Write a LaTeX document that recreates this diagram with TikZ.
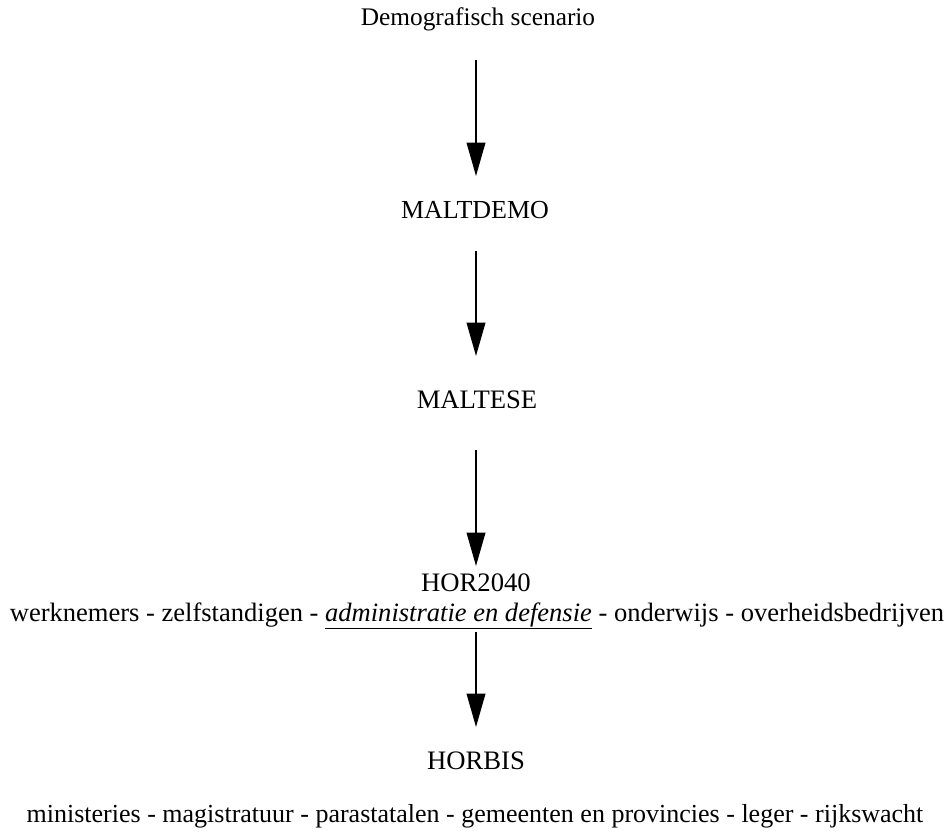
\documentclass[tikz,border=0pt]{standalone}
\usepackage{fontspec}
\setmainfont{Liberation Serif}
\usetikzlibrary{arrows.meta}
\begin{document}
\begin{tikzpicture}[x=0.75pt,y=-0.75pt,
  lbl/.style={inner sep=0pt, font=\fontsize{20}{22}\selectfont, anchor=base},
  flow/.style={line width=1.2pt, -{Triangle[length=25pt,width=14pt]}}]
\useasboundingbox (0,0) rectangle (948,832);
\node[lbl, font=\fontsize{19}{21}\selectfont] (demo) at (478,25) {Demografisch scenario};
\node[lbl, font=\fontsize{19.5}{21}\selectfont] (maltdemo) at (475,218) {MALTDEMO};
\node[lbl] (maltese) at (477,408) {MALTESE};
\node[lbl] (hor) at (476,591) {HOR2040};
\node[lbl, font=\fontsize{19.9}{22}\selectfont] (horsub) at (477,621) {werknemers - zelfstandigen - \underline{\textit{administratie en defensie}} - onderwijs - overheidsbedrijven};
\node[lbl] (horbis) at (476,769) {HORBIS};
\node[lbl, font=\fontsize{19.5}{22}\selectfont] (horbissub) at (475,822) {ministeries - magistratuur - parastatalen - gemeenten en provincies - leger - rijkswacht};
\coordinate (a1s) at (476,60); \coordinate (a1e) at (476,176);
\coordinate (a2s) at (476,251); \coordinate (a2e) at (476,356);
\coordinate (a3s) at (476,450); \coordinate (a3e) at (476,566);
\coordinate (a4s) at (476,632); \coordinate (a4e) at (476,727);
\draw[flow] (a1s) -- (a1e);
\draw[flow] (a2s) -- (a2e);
\draw[flow] (a3s) -- (a3e);
\draw[flow] (a4s) -- (a4e);
\end{tikzpicture}
\end{document}
